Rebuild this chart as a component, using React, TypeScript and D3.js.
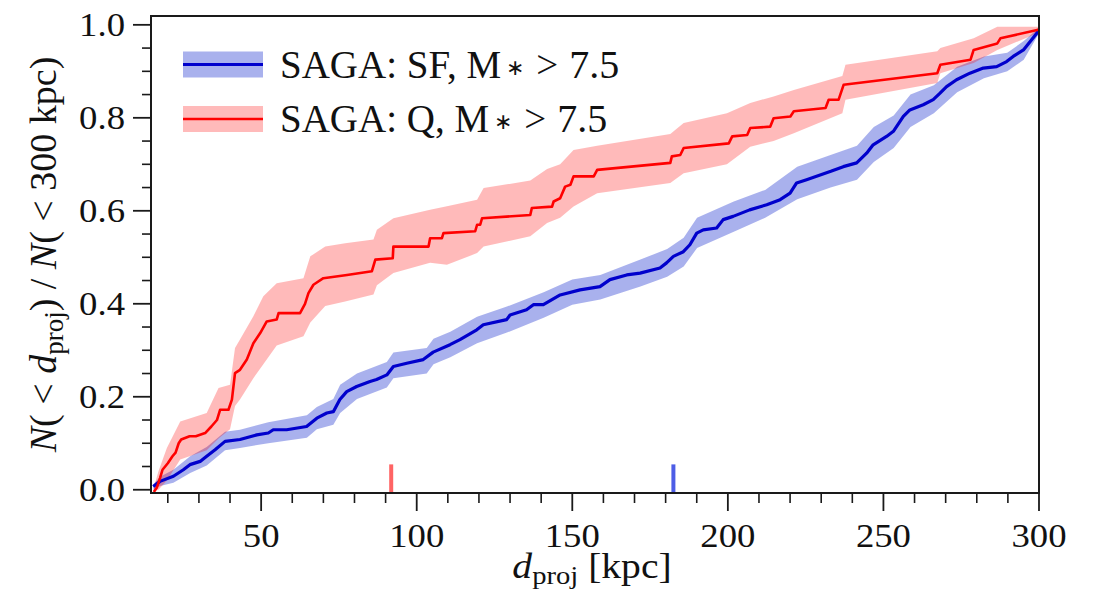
import React from 'react';
import * as d3 from 'd3';

// ---------- data ----------
// Star-forming (SF) cumulative distribution, traced vertices: d_proj [kpc] and N(<d)/N(<300)
const sfX = [15.3, 17.5, 21.8, 25.0, 27.1, 30.4, 32.5, 35.2, 38.4, 43.2, 48.6, 52.3, 53.9, 58.2, 64.6, 67.9, 71.1, 73.2, 75.3, 77.5, 80.7, 85.0, 87.1, 90.4, 92.5, 96.8, 102.1, 105.3, 110.7, 113.9, 119.3, 121.4, 128.9, 130.0, 135.3, 137.5, 140.7, 146.1, 152.5, 158.9, 162.1, 167.5, 171.8, 178.2, 180.3, 182.5, 185.7, 187.8, 190.0, 192.1, 196.4, 198.5, 201.7, 207.0, 212.5, 216.8, 220.0, 222.1, 225.3, 233.1, 237.1, 241.4, 244.6, 246.7, 251.0, 253.2, 256.4, 258.5, 262.8, 266.0, 268.2, 270.3, 273.5, 277.8, 282.1, 286.4, 289.6, 291.7, 295.0, 299.3, 300];
const sfY = [0.007, 0.018, 0.029, 0.043, 0.054, 0.061, 0.072, 0.086, 0.104, 0.108, 0.118, 0.122, 0.129, 0.129, 0.136, 0.154, 0.165, 0.168, 0.194, 0.211, 0.222, 0.233, 0.237, 0.247, 0.265, 0.272, 0.28, 0.296, 0.312, 0.323, 0.344, 0.355, 0.366, 0.376, 0.387, 0.398, 0.398, 0.419, 0.43, 0.437, 0.452, 0.462, 0.466, 0.477, 0.488, 0.502, 0.512, 0.527, 0.552, 0.559, 0.563, 0.581, 0.588, 0.602, 0.613, 0.624, 0.638, 0.66, 0.667, 0.685, 0.695, 0.703, 0.724, 0.742, 0.76, 0.771, 0.803, 0.817, 0.828, 0.839, 0.853, 0.867, 0.882, 0.896, 0.907, 0.91, 0.921, 0.932, 0.946, 0.982, 0.99];
const sfBandX = [15.4, 17.5, 21.8, 27.2, 32.5, 38.4, 43.2, 52.3, 64.7, 67.9, 73.2, 75.4, 80.8, 90.4, 92.5, 103.2, 105.4, 110.8, 119.4, 129, 140.8, 150, 159, 171.9, 180.5, 185.8, 190.1, 201.9, 212, 222.3, 233, 241.5, 246.9, 253.3, 258.7, 266.2, 273.7, 282.3, 289.8, 295.1, 299.4, 300];
const sfBandLo = [0.0, 0.008, 0.015, 0.036, 0.052, 0.085, 0.09, 0.1, 0.112, 0.13, 0.14, 0.165, 0.195, 0.22, 0.24, 0.25, 0.27, 0.285, 0.315, 0.338, 0.37, 0.398, 0.409, 0.437, 0.458, 0.48, 0.52, 0.555, 0.585, 0.625, 0.65, 0.667, 0.705, 0.735, 0.78, 0.81, 0.855, 0.885, 0.9, 0.925, 0.975, 0.98];
const sfBandHi = [0.012, 0.028, 0.043, 0.072, 0.092, 0.125, 0.129, 0.145, 0.16, 0.178, 0.195, 0.226, 0.25, 0.275, 0.295, 0.305, 0.325, 0.34, 0.372, 0.394, 0.425, 0.452, 0.462, 0.495, 0.518, 0.542, 0.585, 0.62, 0.645, 0.695, 0.72, 0.74, 0.78, 0.805, 0.85, 0.87, 0.91, 0.932, 0.94, 0.965, 0.99, 0.995];

// Quiescent (Q) cumulative distribution, traced vertices
const qX = [15.5, 16.5, 17.5, 18.3, 20, 21.5, 22.5, 23.5, 24.3, 27, 29, 32, 34, 35.8, 36.8, 39.5, 40.6, 41.6, 43.2, 45.4, 47.5, 49.7, 51.8, 55, 55.6, 62.5, 64.1, 65.2, 66.8, 70, 77.6, 85.6, 86.7, 92.3, 92.5, 103.8, 104.3, 108.1, 108.6, 118.8, 119.4, 120.4, 121, 136.5, 137, 143.5, 144, 146.1, 147.7, 149.4, 150.4, 156.9, 158, 181.5, 182, 184.7, 185.8, 200.3, 201.4, 206.2, 207.2, 213.6, 214.7, 220.1, 221.2, 231.4, 232.4, 235.6, 237.2, 267.3, 268.3, 278, 279, 286.6, 287.6, 299.4, 300];
const qY = [-0.005, 0.005, 0.025, 0.043, 0.057, 0.072, 0.08, 0.1, 0.108, 0.115, 0.115, 0.122, 0.136, 0.15, 0.172, 0.172, 0.194, 0.251, 0.258, 0.28, 0.315, 0.337, 0.362, 0.366, 0.38, 0.38, 0.4, 0.423, 0.441, 0.455, 0.462, 0.47, 0.495, 0.498, 0.523, 0.523, 0.541, 0.541, 0.552, 0.556, 0.57, 0.57, 0.584, 0.591, 0.606, 0.609, 0.62, 0.627, 0.652, 0.656, 0.674, 0.674, 0.688, 0.703, 0.717, 0.72, 0.735, 0.745, 0.76, 0.763, 0.778, 0.781, 0.799, 0.803, 0.814, 0.821, 0.839, 0.839, 0.871, 0.896, 0.914, 0.925, 0.946, 0.96, 0.971, 0.989, 0.99];
const qBandX = [15.5, 17, 19.7, 24, 32.5, 36.3, 40, 41.6, 43.2, 47.5, 50.7, 55, 63.6, 65.8, 70.6, 77, 86.1, 87.2, 92.5, 104.3, 109.7, 119.4, 121.5, 136.5, 141.9, 146.1, 150.4, 158, 181.5, 185.8, 199.7, 207.2, 214.7, 221.2, 236.8, 237.8, 267.3, 268.3, 279, 286.6, 299.5, 300];
const qBandLo = [0.0, 0.0, 0.02, 0.065, 0.085, 0.11, 0.13, 0.18, 0.194, 0.24, 0.27, 0.31, 0.33, 0.36, 0.395, 0.405, 0.42, 0.44, 0.466, 0.488, 0.484, 0.509, 0.523, 0.545, 0.574, 0.585, 0.609, 0.638, 0.66, 0.681, 0.7, 0.738, 0.75, 0.767, 0.81, 0.839, 0.875, 0.896, 0.918, 0.946, 0.982, 0.982];
const qBandHi = [0.005, 0.04, 0.09, 0.147, 0.165, 0.219, 0.226, 0.305, 0.323, 0.373, 0.416, 0.444, 0.455, 0.502, 0.523, 0.53, 0.538, 0.559, 0.584, 0.602, 0.61, 0.624, 0.649, 0.665, 0.69, 0.7, 0.731, 0.74, 0.765, 0.789, 0.81, 0.832, 0.846, 0.86, 0.89, 0.914, 0.943, 0.95, 0.971, 0.996, 0.996, 0.996];

// medians (short vertical markers)
const qMedian = 91.8;
const sfMedian = 182.5;

const xMajorTicks = [50, 100, 150, 200, 250, 300];
const xMinorTicks = [20, 30, 40, 60, 70, 80, 90, 110, 120, 130, 140, 160, 170, 180, 190, 210, 220, 230, 240, 260, 270, 280, 290];
const yMajorTicks = [0.0, 0.2, 0.4, 0.6, 0.8, 1.0];
const yMinorTicks = [0.05, 0.1, 0.15, 0.25, 0.3, 0.35, 0.45, 0.5, 0.55, 0.65, 0.7, 0.75, 0.85, 0.9, 0.95];

const legendLabels = ['SAGA: SF, M', 'SAGA: Q, M'];

// ---------- layout ----------
const W = 1099, H = 603;
const L = 151, R = 1039, T = 16, B = 493;
const FONT = "'Liberation Serif', 'Times New Roman', Times, serif";
const AX = '#1a1a1a';

const BLUE_LINE = '#0000cc';
const BLUE_BAND = 'rgb(40,60,210)';
const RED_LINE = '#ff0000';
const RED_BAND = '#ff0000';

export default function App() {
  const x = d3.scaleLinear().domain([14.6, 300]).range([L, R]);
  const y = d3.scaleLinear().domain([-0.007, 1.019]).range([B, T]);

  const line = (xs: number[], ys: number[]) =>
    d3.line<number>().x((_, i) => x(xs[i])).y((_, i) => y(ys[i])).curve(d3.curveLinear)(ys) || '';
  const area = (xs: number[], lo: number[], hi: number[]) =>
    d3.area<number>().x((_, i) => x(xs[i])).y0((_, i) => y(lo[i])).y1((_, i) => y(hi[i])).curve(d3.curveLinear)(lo) || '';

  const axH = B - T;
  const markerTop = B - 0.06 * axH;

  const tickFs = 34;
  const sx = 1.08;
  const txt = { fontFamily: FONT, fill: '#111' } as React.CSSProperties;

  return (
    <div style={{ position: 'absolute', left: 0, top: 0 }}>
      <svg width={W} height={H} viewBox={`0 0 ${W} ${H}`} style={{ display: 'block', background: '#fff', fontFamily: FONT }}>
        <defs>
          <clipPath id="plotclip">
            <rect x={L} y={T} width={R - L} height={B - T} />
          </clipPath>
        </defs>
        <rect x={0} y={0} width={W} height={H} fill="#fff" />

        <g clipPath="url(#plotclip)">
          <path d={area(sfBandX, sfBandLo, sfBandHi)} fill={BLUE_BAND} fillOpacity={0.4} stroke="none" />
          <path d={area(qBandX, qBandLo, qBandHi)} fill={RED_BAND} fillOpacity={0.27} stroke="none" />
          <path d={line(sfX, sfY)} fill="none" stroke={BLUE_LINE} strokeWidth={3.2} strokeLinejoin="round" />
          <path d={line(qX, qY)} fill="none" stroke={RED_LINE} strokeWidth={2.6} strokeLinejoin="round" />
          <line x1={x(qMedian)} x2={x(qMedian)} y1={B} y2={markerTop} stroke="#ff3030" strokeOpacity={0.75} strokeWidth={4} />
          <line x1={x(sfMedian)} x2={x(sfMedian)} y1={B} y2={markerTop} stroke="#2035e0" strokeOpacity={0.8} strokeWidth={4} />
        </g>

        {/* spines */}
        <rect x={L} y={T} width={R - L} height={B - T} fill="none" stroke={AX} strokeWidth={2} />

        {/* x ticks */}
        {xMinorTicks.map((v) => (
          <line key={'xm' + v} x1={x(v)} x2={x(v)} y1={B} y2={B + 10} stroke={AX} strokeWidth={1.6} />
        ))}
        {xMajorTicks.map((v) => (
          <g key={'xM' + v}>
            <line x1={x(v)} x2={x(v)} y1={B} y2={B + 18} stroke={AX} strokeWidth={1.8} />
            <g transform={`translate(${x(v)},547) scale(${sx},1)`}>
              <text x={0} y={0} textAnchor="middle" style={{ ...txt, fontSize: tickFs }}>{v}</text>
            </g>
          </g>
        ))}

        {/* y ticks */}
        {yMinorTicks.map((v) => (
          <line key={'ym' + v} x1={L - 9} x2={L} y1={y(v)} y2={y(v)} stroke={AX} strokeWidth={1.6} />
        ))}
        {yMajorTicks.map((v) => (
          <g key={'yM' + v}>
            <line x1={L - 18} x2={L} y1={y(v)} y2={y(v)} stroke={AX} strokeWidth={1.8} />
            <g transform={`translate(125,${y(v) + 11.5}) scale(${sx},1)`}>
              <text x={0} y={0} textAnchor="end" style={{ ...txt, fontSize: tickFs }}>{v.toFixed(1)}</text>
            </g>
          </g>
        ))}

        {/* x label */}
        <g transform={`translate(${(L + R) / 2 - 3},578) scale(1.1,1)`}>
          <text x={0} y={0} textAnchor="middle" style={{ ...txt, fontSize: 36 }}>
            <tspan fontStyle="italic">d</tspan>
            <tspan fontSize={26} dy={6}>proj</tspan>
            <tspan dy={-6}> [kpc]</tspan>
          </text>
        </g>

        {/* y label */}
        <g transform={`translate(56,${(T + B) / 2}) rotate(-90)`}>
          <text x={0} y={0} textAnchor="middle" style={{ ...txt, fontSize: 38 }}>
            <tspan fontStyle="italic">N</tspan>
            <tspan>( &lt; </tspan>
            <tspan fontStyle="italic">d</tspan>
            <tspan fontSize={27} dy={7}>proj</tspan>
            <tspan dy={-7}>) / </tspan>
            <tspan fontStyle="italic">N</tspan>
            <tspan>( &lt; 300 kpc)</tspan>
          </text>
        </g>

        {/* legend */}
        {[0, 1].map((i) => {
          const cy = i === 0 ? 64.5 : 119;
          const bandFill = i === 0 ? BLUE_BAND : RED_BAND;
          const bandOp = i === 0 ? 0.4 : 0.27;
          const lc = i === 0 ? BLUE_LINE : RED_LINE;
          return (
            <g key={'lg' + i}>
              <rect x={183} y={cy - 13} width={80} height={26} fill={bandFill} fillOpacity={bandOp} />
              <line x1={183} x2={263} y1={cy} y2={cy} stroke={lc} strokeWidth={i === 0 ? 3.2 : 2.6} />
              <text x={280} y={cy + 13} style={{ ...txt, fontSize: 39 }}>
                <tspan>{legendLabels[i]}</tspan>
                <tspan fontSize={22} dy={-3} dx={5}>∗</tspan>
                <tspan dy={3} dx={12}>{'>'}</tspan>
                <tspan dx={11} fontSize={40}>{'7.5'}</tspan>
              </text>
            </g>
          );
        })}
      </svg>
    </div>
  );
}
